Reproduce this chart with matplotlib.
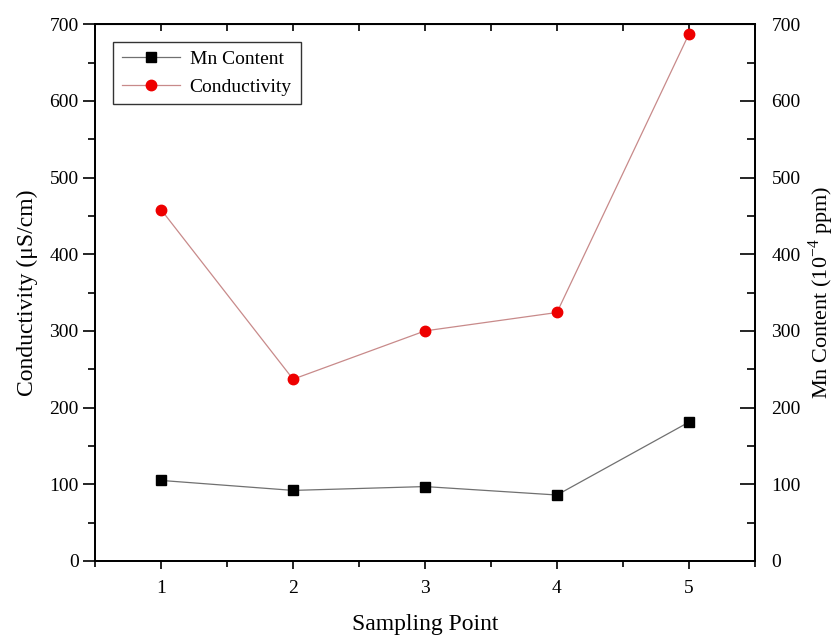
import numpy as np
import matplotlib
matplotlib.use("Agg")
from matplotlib import pyplot as plt
from matplotlib.ticker import MultipleLocator

plt.rcParams['font.family'] = ['Liberation Serif', 'DejaVu Serif']
plt.rcParams['mathtext.fontset'] = 'custom'
plt.rcParams['mathtext.rm'] = 'Liberation Serif'

# data
sampling_point = [1, 2, 3, 4, 5]
conductivity = [458, 237, 300, 324, 687]   # uS/cm
mn_content = [105, 92, 97, 86, 181]        # 1e-4 ppm

fig = plt.figure(figsize=(8.35, 6.36), dpi=100)
ax = fig.add_axes([0.114, 0.118, 0.790, 0.844])
ax2 = ax.twinx()

l_mn, = ax2.plot(sampling_point, mn_content, color='#707070', lw=0.9,
                 marker='s', ms=6.5, mfc='black', mec='black', label='Mn Content')
l_cd, = ax.plot(sampling_point, conductivity, color='#c88a8a', lw=0.9,
                marker='o', ms=7.5, mfc='#ee0000', mec='#ee0000', label='Conductivity')

for a in (ax, ax2):
    a.set_ylim(0, 700)
    a.yaxis.set_major_locator(MultipleLocator(100))
    a.yaxis.set_minor_locator(MultipleLocator(50))
ax.set_xlim(0.5, 5.5)
ax.xaxis.set_major_locator(MultipleLocator(1))
ax.xaxis.set_minor_locator(MultipleLocator(0.5))

ax.tick_params(axis='both', which='major', labelsize=14, width=1.2)
ax.tick_params(axis='y', which='major', direction='out', length=9, left=True, pad=3)
ax.tick_params(axis='y', which='minor', direction='out', length=5, width=1.2)
ax.tick_params(axis='x', which='major', direction='out', length=6, top=False)
ax.tick_params(axis='x', which='minor', direction='out', length=4, width=1.2)
ax.tick_params(axis='x', which='both', pad=8)
ax2.tick_params(axis='y', which='major', direction='in', length=11, width=1.2,
                labelsize=14, pad=12)
ax2.tick_params(axis='y', which='minor', direction='in', length=6, width=1.2)

# inward ticks along top
secx = ax.secondary_xaxis('top')
secx.xaxis.set_major_locator(MultipleLocator(1))
secx.xaxis.set_minor_locator(MultipleLocator(0.5))
secx.tick_params(which='both', direction='in', length=5, width=1.2, labeltop=False)

for a in (ax, ax2):
    for s in a.spines.values():
        s.set_linewidth(1.3)

ax.set_xlabel('Sampling Point', fontsize=17, labelpad=12)
ax.set_ylabel('Conductivity (\u03bcS/cm)', fontsize=17, labelpad=8)
ax2.set_ylabel('Mn Content (10$^{-4}$ ppm)', fontsize=16, labelpad=4)

leg = ax.legend([l_mn, l_cd], ['Mn Content', 'Conductivity'], loc='upper left',
                bbox_to_anchor=(0.012, 0.985), fontsize=14, handlelength=3.0,
                fancybox=False, frameon=True, borderpad=0.45, labelspacing=0.5,
                handletextpad=0.5)
leg.get_frame().set_edgecolor('black')
leg.get_frame().set_linewidth(1.0)

fig.savefig('out.png', dpi=100)
